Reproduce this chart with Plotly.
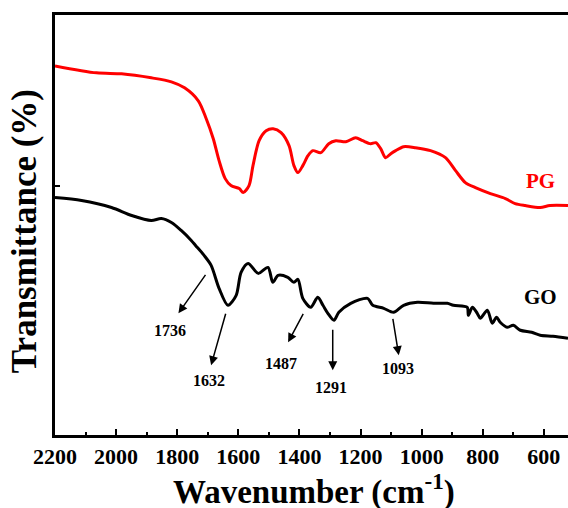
import plotly.graph_objects as go

# Wavenumber (cm^-1) and transmittance (a.u.)
pg_wn = [2200, 2064, 1982, 1885, 1819, 1776, 1731, 1705, 1682, 1663, 1643, 1624, 1597, 1584,
         1565, 1552, 1532, 1509, 1486, 1460, 1434, 1418, 1405, 1389, 1372, 1356, 1330, 1304,
         1281, 1248, 1216, 1193, 1167, 1150, 1134, 1118, 1101, 1085, 1059, 1020, 971, 922,
         889, 857, 824, 775, 726, 694, 661, 612, 580, 521]
pg_t = [370, 363, 362, 358, 354, 348, 335, 317, 297, 275, 257, 250, 247, 243,
        250, 270, 295, 305, 307, 303, 290, 270, 263, 270, 280, 285, 283, 292,
        295, 294, 298, 295, 292, 293, 287, 278, 282, 285, 289, 288, 285, 278,
        265, 253, 248, 242, 237, 232, 230, 228, 230, 230]

go_wn = [2200, 2113, 2015, 1949, 1885, 1852, 1819, 1787, 1754, 1740, 1712, 1689, 1663, 1634,
         1607, 1591, 1568, 1535, 1503, 1487, 1470, 1438, 1418, 1405, 1389, 1363, 1340, 1323,
         1307, 1287, 1271, 1232, 1177, 1160, 1124, 1092, 1059, 1014, 961, 916, 896, 851,
         847, 834, 818, 808, 785, 769, 755, 743, 720, 700, 677, 640, 612, 570, 521]
go_t = [238, 235, 228, 220, 215, 217, 213, 205, 195, 190, 180, 170, 147, 130,
        140, 163, 172, 162, 168, 153, 160, 158, 153, 156, 137, 128, 138, 130,
        122, 115, 123, 132, 137, 130, 127, 123, 130, 133, 132, 132, 130, 128,
        120, 128, 122, 117, 125, 112, 118, 113, 108, 110, 105, 103, 100, 99, 97]

peak_labels = [1736, 1632, 1487, 1291, 1093]
arrow_tail = [(1704, 162), (1640, 123), (1385, 123), (1291, 107), (1095, 118)]
arrow_head = [(1796, 122), (1689, 70), (1437, 93), (1291, 65), (1075, 80)]
label_pos = [(1822, 105), (1695, 55), (1460, 72), (1297, 48), (1079, 67)]

FONT = "Liberation Serif"

fig = go.Figure()
fig.add_trace(go.Scatter(x=pg_wn, y=pg_t, mode="lines", line=dict(color="#ff0000", width=3),
                         line_shape="spline", line_smoothing=0.8, showlegend=False))
fig.add_trace(go.Scatter(x=go_wn, y=go_t, mode="lines", line=dict(color="#000000", width=3),
                         line_shape="spline", line_smoothing=0.8, showlegend=False))

ann = []
for lab, (tx, ty), (hx, hy), (lx, ly) in zip(peak_labels, arrow_tail, arrow_head, label_pos):
    ann.append(dict(x=hx, y=hy, ax=tx, ay=ty, xref="x", yref="y", axref="x", ayref="y",
                    text="", showarrow=True, arrowhead=2, arrowsize=1.2, arrowwidth=1.5,
                    arrowcolor="black"))
    ann.append(dict(x=lx, y=ly, xref="x", yref="y", text=str(lab), showarrow=False,
                    xanchor="center", yanchor="middle",
                    font=dict(family=FONT, size=16, color="black", weight="bold")))

ann.append(dict(x=612, y=255, xref="x", yref="y", text="PG", showarrow=False,
                xanchor="center", yanchor="middle",
                font=dict(family=FONT, size=21, color="#ff0000", weight="bold")))
ann.append(dict(x=612, y=138, xref="x", yref="y", text="GO", showarrow=False,
                xanchor="center", yanchor="middle",
                font=dict(family=FONT, size=21, color="black", weight="bold")))
ann.append(dict(x=0.505, y=-0.13, xref="paper", yref="paper", text="Wavenumber (cm<sup>-1</sup>)",
                xanchor="center", yanchor="middle",
                showarrow=False, font=dict(family=FONT, size=33, color="black", weight="bold")))
ann.append(dict(x=-0.058, y=0.486, xref="paper", yref="paper", text="Transmittance (%)",
                xanchor="center", yanchor="middle",
                textangle=-90, showarrow=False,
                font=dict(family=FONT, size=35, color="black", weight="bold")))

fig.update_layout(
    width=568, height=508,
    margin=dict(l=55, r=0, t=15, b=73),
    paper_bgcolor="white", plot_bgcolor="white",
    annotations=ann,
    xaxis=dict(range=[2200, 521], tickvals=[2200, 2000, 1800, 1600, 1400, 1200, 1000, 800, 600],
               ticks="inside", ticklen=6, tickwidth=2, tickcolor="black",
               minor=dict(tickvals=[2100, 1900, 1700, 1500, 1300, 1100, 900, 700],
                         ticks="inside", ticklen=3, tickwidth=2, tickcolor="black"),
               showline=True, linewidth=3, linecolor="black", mirror=True,
               showgrid=False, zeroline=False,
               tickfont=dict(family=FONT, size=22, color="black", weight="bold")),
    yaxis=dict(range=[0, 421], tickvals=[250], ticks="inside", ticklen=5, tickwidth=2,
               tickcolor="black", showticklabels=False,
               showline=True, linewidth=3, linecolor="black", mirror=False,
               showgrid=False, zeroline=False),
)

fig.write_html("out.html")
